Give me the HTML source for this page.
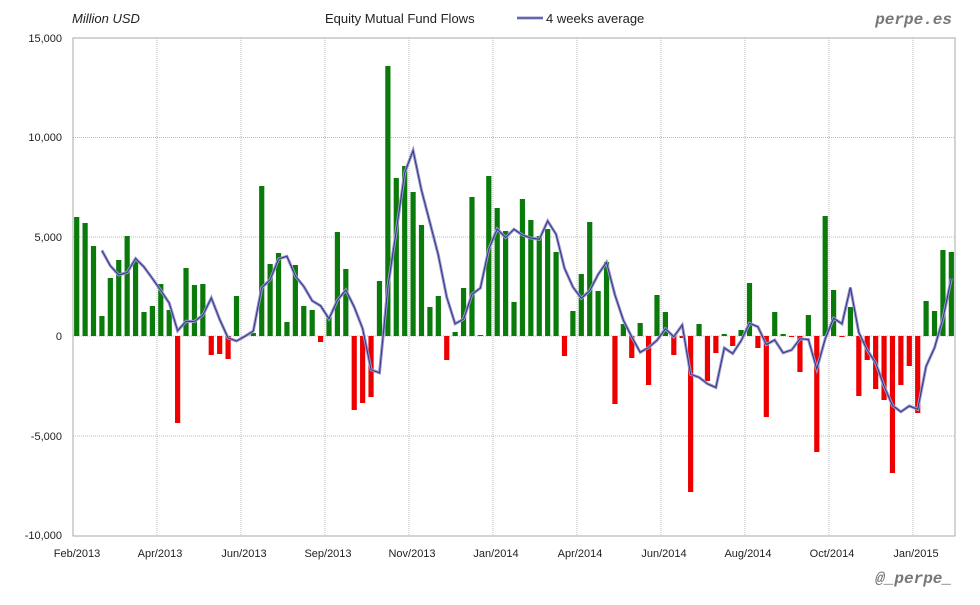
<!DOCTYPE html>
<html><head><meta charset="utf-8"><style>
html,body{margin:0;padding:0;background:#fff;}
svg text{font-family:"Liberation Sans",sans-serif;}
</style></head><body>
<svg id="s" width="980" height="600" xmlns="http://www.w3.org/2000/svg">
<rect width="980" height="600" fill="#fff"/>
<g id="grid"></g>
<rect x="73" y="38" width="882" height="498" fill="none" stroke="#aaa" stroke-width="1"/>
<g id="bars"></g>
<g id="line"></g>
<g font-size="11" fill="#222" text-anchor="end">
<text x="62" y="42">15,000</text>
<text x="62" y="141">10,000</text>
<text x="62" y="241">5,000</text>
<text x="62" y="340">0</text>
<text x="62" y="440">-5,000</text>
<text x="62" y="539">-10,000</text>
</g>
<g font-size="11" fill="#222" text-anchor="middle">
<text x="77" y="557">Feb/2013</text>
<text x="160" y="557">Apr/2013</text>
<text x="244" y="557">Jun/2013</text>
<text x="328" y="557">Sep/2013</text>
<text x="412" y="557">Nov/2013</text>
<text x="496" y="557">Jan/2014</text>
<text x="580" y="557">Apr/2014</text>
<text x="664" y="557">Jun/2014</text>
<text x="748" y="557">Aug/2014</text>
<text x="832" y="557">Oct/2014</text>
<text x="916" y="557">Jan/2015</text>
</g>
<text x="72" y="23" font-size="13" font-style="italic" fill="#222">Million USD</text>
<text x="325" y="23" font-size="13" fill="#222">Equity Mutual Fund Flows</text>
<line x1="517" y1="18" x2="543" y2="18" stroke="#9999cc" stroke-width="3"/>
<line x1="517" y1="18" x2="543" y2="18" stroke="#333388" stroke-width="1"/>
<text x="546" y="23" font-size="13" fill="#222">4 weeks average</text>
<text x="952" y="24" font-size="16" font-weight="bold" font-style="italic" fill="#777" text-anchor="end" font-family="Liberation Mono,monospace" style="font-family:'Liberation Mono',monospace">perpe.es</text>
<text x="952" y="583" font-size="16" font-weight="bold" font-style="italic" fill="#777" text-anchor="end" style="font-family:'Liberation Mono',monospace">@_perpe_</text>
</svg>
<script>
var ys=[217,223,246,316,278,260,236,260,312,306,284,310,423,268,285,284,355,354,359,296,336,333,186,264,253,322,265,306,310,342,317,232,269,410,403,397,281,66,178,166,192,225,307,296,360,332,288,197,335,176,208,231,302,199,220,236,229,252,356,311,274,222,291,262,404,324,358,323,385,295,312,355,338,492,324,381,353,334,346,330,283,348,417,312,334,337,372,315,452,216,290,337,307,396,360,389,400,473,385,366,413,301,311,250,252];
var Z=336,ns="http://www.w3.org/2000/svg";
function el(t,a,p){var e=document.createElementNS(ns,t);for(var k in a)e.setAttribute(k,a[k]);document.getElementById(p).appendChild(e);}
[137.5,237,336,436].forEach(function(y){el('line',{x1:73,x2:955,y1:y,y2:y,stroke:'#bbb','stroke-dasharray':'1,1'},'grid');});
for(var x=157;x<955;x+=84)el('line',{x1:x,x2:x,y1:38,y2:536,stroke:'#bbb','stroke-dasharray':'1,1'},'grid');
var pts=[];
ys.forEach(function(y,i){var cx=76.7+i*8.41;
 if(y<Z)el('rect',{x:cx-2.6,y:y,width:5.2,height:Z-y,fill:'#0a7a0a'},'bars');
 else if(y>Z)el('rect',{x:cx-2.6,y:Z,width:5.2,height:y-Z,fill:'#ee0000'},'bars');
 if(i>=3){var a=(ys[i]+ys[i-1]+ys[i-2]+ys[i-3])/4;pts.push(cx.toFixed(1)+','+a.toFixed(1));}
});
el('polyline',{points:pts.join(' '),fill:'none',stroke:'#9999cc','stroke-width':3},'line');
el('polyline',{points:pts.join(' '),fill:'none',stroke:'#333388','stroke-width':1},'line');
</script>
</body></html>
